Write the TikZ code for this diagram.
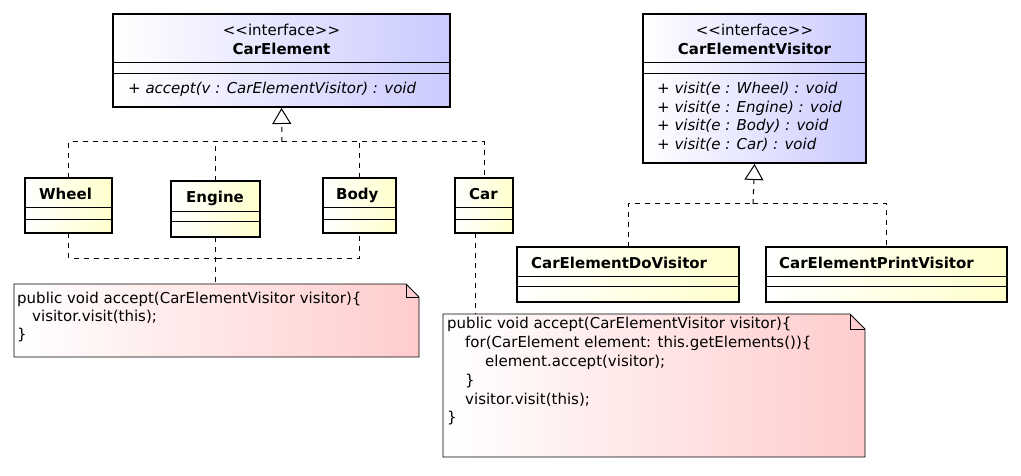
\documentclass[tikz,border=0pt]{standalone}
\usepackage{fontspec}
\setmainfont{DejaVu Sans}
\usetikzlibrary{arrows.meta}
\definecolor{ifblue}{RGB}{202,202,255}
\definecolor{clyellow}{RGB}{255,255,204}
\definecolor{notepink}{RGB}{255,204,204}
\tikzset{
  box/.style={anchor=north west, inner sep=0pt, outer sep=0pt, line width=2.4pt, draw=black},
  iface/.style={box, left color=white, right color=ifblue},
  cls/.style={box, left color=white, right color=clyellow},
  sepline/.style={line width=0.9pt},
  txt/.style={anchor=base, inner sep=0pt, font=\fontsize{15}{18}\selectfont},
  txtl/.style={anchor=base west, inner sep=0pt, font=\fontsize{15}{18}\selectfont},
  bold/.style={font=\fontsize{15}{18}\selectfont\bfseries},
  ital/.style={font=\fontsize{15}{18}\selectfont\itshape},
  conn/.style={line width=1pt, dash pattern=on 5pt off 5pt},
  realize/.style={conn, -{Triangle[open, width=19pt, length=16pt, line width=1pt]}},
  notepath/.style={line width=0.9pt, left color=white, right color=notepink},
  noteanchor/.style={anchor=north west, inner sep=0pt, outer sep=0pt},
  notetxt/.style={anchor=base west, inner sep=0pt, font=\fontsize{15}{18}\selectfont},
}
\begin{document}
\begin{tikzpicture}[x=1pt, y=-1pt]
\useasboundingbox (0,0) rectangle (1021,476);

% ---- CarElement interface
\node[iface, minimum width=337pt, minimum height=93pt] (ce) at (113,14) {};
\draw[sepline] (ce.west |- 0,62) -- (ce.east |- 0,62);
\draw[sepline] (ce.west |- 0,73) -- (ce.east |- 0,73);
\node[txt] (ce-st) at (ce.north |- 0,36) {{<}{<}interface{>}{>}};
\node[txt, bold, anchor=base] (ce-name) at (ce.north |- 0,55) {CarElement};
\node[txtl, ital, anchor=base west] (ce-m1) at (128,94) {+ accept(v : CarElementVisitor) : void};

% ---- CarElementVisitor interface
\node[iface, minimum width=223pt, minimum height=149pt] (cev) at (643,14) {};
\draw[sepline] (cev.west |- 0,62) -- (cev.east |- 0,62);
\draw[sepline] (cev.west |- 0,73) -- (cev.east |- 0,73);
\node[txt] (cev-st) at (cev.north |- 0,36) {{<}{<}interface{>}{>}};
\node[txt, bold, anchor=base] (cev-name) at (cev.north |- 0,55) {CarElementVisitor};
\node[txtl, ital, anchor=base west] (cev-m1) at (657,94) {+ visit(e : Wheel) : void};
\node[txtl, ital, anchor=base west] (cev-m2) at (657,112.5) {+ visit(e : Engine) : void};
\node[txtl, ital, anchor=base west] (cev-m3) at (657,131) {+ visit(e : Body) : void};
\node[txtl, ital, anchor=base west] (cev-m4) at (657,149.5) {+ visit(e : Car) : void};

% ---- element classes
\node[cls, minimum width=87pt, minimum height=55pt] (wheel) at (25,178) {};
\draw[sepline] (wheel.west |- 0,207) -- (wheel.east |- 0,207);
\draw[sepline] (wheel.west |- 0,219) -- (wheel.east |- 0,219);
\node[txtl, bold, anchor=base west] (wheel-name) at (39,200) {Wheel};

\node[cls, minimum width=89pt, minimum height=56pt] (engine) at (171,181) {};
\draw[sepline] (engine.west |- 0,211) -- (engine.east |- 0,211);
\draw[sepline] (engine.west |- 0,221) -- (engine.east |- 0,221);
\node[txtl, bold, anchor=base west] (engine-name) at (186,203) {Engine};

\node[cls, minimum width=73pt, minimum height=55pt] (body) at (323,178) {};
\draw[sepline] (body.west |- 0,207) -- (body.east |- 0,207);
\draw[sepline] (body.west |- 0,219) -- (body.east |- 0,219);
\node[txtl, bold, anchor=base west] (body-name) at (336,200) {Body};

\node[cls, minimum width=58pt, minimum height=55pt] (car) at (455,178) {};
\draw[sepline] (car.west |- 0,207) -- (car.east |- 0,207);
\draw[sepline] (car.west |- 0,219) -- (car.east |- 0,219);
\node[txtl, bold, anchor=base west] (car-name) at (469,200) {Car};

% ---- visitor classes
\node[cls, minimum width=222pt, minimum height=55pt] (dov) at (517,247) {};
\draw[sepline] (dov.west |- 0,276) -- (dov.east |- 0,276);
\draw[sepline] (dov.west |- 0,286) -- (dov.east |- 0,286);
\node[txtl, bold, anchor=base west] (dov-name) at (531,268) {CarElementDoVisitor};

\node[cls, minimum width=241pt, minimum height=55pt] (prv) at (766,247) {};
\draw[sepline] (prv.west |- 0,276) -- (prv.east |- 0,276);
\draw[sepline] (prv.west |- 0,286) -- (prv.east |- 0,286);
\node[txtl, bold, anchor=base west] (prv-name) at (779,268) {CarElementPrintVisitor};

% ---- notes
\node[noteanchor, minimum width=405pt, minimum height=73pt] (n1) at (14,284) {};
\path[notepath, draw] (n1.north west) -- ([xshift=-13pt]n1.north east) -- ([yshift=-13pt]n1.north east)
  -- (n1.south east) -- (n1.south west) -- cycle;
\draw[line width=0.9pt] ([xshift=-13pt]n1.north east) -- ([xshift=-13pt,yshift=-13pt]n1.north east) -- ([yshift=-13pt]n1.north east);
\node[notetxt] (n1-l1) at (17,303) {public void accept(CarElementVisitor visitor)\{};
\node[notetxt] (n1-l2) at (32,321) {visitor.visit(this);};
\node[notetxt] (n1-l3) at (17,339) {\}};

\node[noteanchor, minimum width=422pt, minimum height=143pt] (n2) at (443,314) {};
\path[notepath, draw] (n2.north west) -- ([xshift=-15pt]n2.north east) -- ([yshift=-15pt]n2.north east)
  -- (n2.south east) -- (n2.south west) -- cycle;
\draw[line width=0.9pt] ([xshift=-15pt]n2.north east) -- ([xshift=-15pt,yshift=-15pt]n2.north east) -- ([yshift=-15pt]n2.north east);
\node[notetxt] (n2-l1) at (447,328) {public void accept(CarElementVisitor visitor)\{};
\node[notetxt] (n2-l2) at (465,347) {for(CarElement element: this.getElements())\{};
\node[notetxt] (n2-l3) at (485,366) {element.accept(visitor);};
\node[notetxt] (n2-l4) at (465,385) {\}};
\node[notetxt] (n2-l5) at (465,404) {visitor.visit(this);};
\node[notetxt] (n2-l6) at (447,422) {\}};

% ---- connectors: realization to CarElement
\coordinate (j1) at (282,142);
\draw[conn] (wheel.north) |- (j1);
\draw[conn] (j1) -| (car.north);
\draw[conn] (engine.north) -- (engine.north |- j1);
\draw[conn] (body.north) -- (body.north |- j1);
\draw[realize] (j1) -- (ce.south |- 0,108);

% ---- realization to CarElementVisitor
\coordinate (j2) at (753,204);
\draw[conn] (dov.north) |- (j2);
\draw[conn] (j2) -| (prv.north);
\draw[realize] (j2) -- (cev.south |- 0,164);

% ---- note links
\coordinate (j3) at (217,258);
\draw[conn] (wheel.south) |- (j3);
\draw[conn] (j3) -| (body.south);
\draw[conn] (engine.south) -- (engine.south |- n1.north);
\draw[conn] (car.south -| 475,0) -- (n2.north -| 475,0);
\end{tikzpicture}
\end{document}
